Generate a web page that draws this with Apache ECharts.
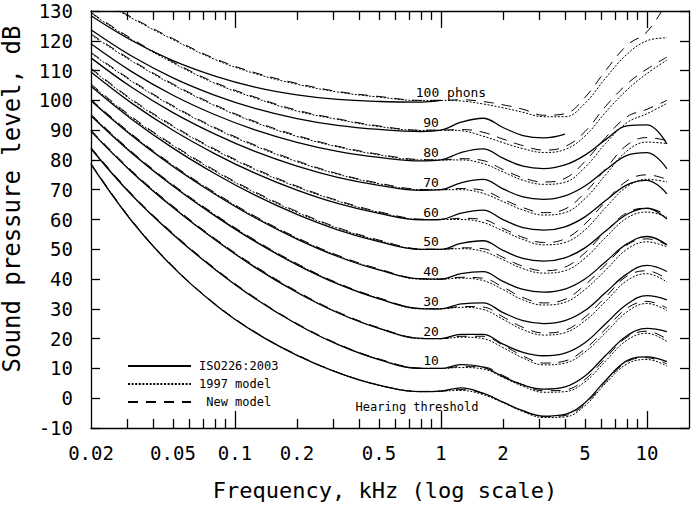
<!DOCTYPE html>
<html>
<head>
<meta charset="utf-8">
<script src="https://cdn.jsdelivr.net/npm/echarts@6/dist/echarts.min.js"></script>
<style>
  html, body { margin: 0; background: #fff; }
  #chart { width: 694px; height: 505px; }
</style>
</head>
<body>
<div id="chart"></div>
<script>
// frequencies in kHz
const freqs = [0.02, 0.0315, 0.05, 0.08, 0.125, 0.2, 0.315, 0.5, 0.8, 1, 1.25, 1.6, 2, 2.5, 3.15, 4, 5, 6.3, 8, 10, 12.5]

// ISO226:2003 contours, dB (90 phons stops at 4 kHz, 100 phons at 1 kHz)
const isoThr = [78.5, 59.5, 44.0, 31.5, 22.1, 14.4, 8.6, 4.4, 2.2, 2.4, 3.5, 1.7, -1.3, -4.2, -6.0, -5.4, -1.5, 6.0, 12.6, 13.9, 12.3]
const iso10 = [83.75, 68.21, 54.96, 43.24, 33.48, 24.84, 18.05, 12.98, 9.99, 10, 11.26, 10.42, 7.27, 4.45, 3.04, 3.80, 7.46, 14.35, 20.98, 23.43, 22.33]
const iso20 = [89.58, 75.98, 64.02, 53.19, 43.94, 35.51, 28.69, 23.43, 20.10, 20, 21.46, 21.40, 18.15, 15.38, 14.25, 15.14, 18.63, 25.02, 31.52, 34.43, 33.04]
const iso30 = [94.85, 82.36, 71.26, 61.22, 52.64, 44.78, 38.36, 33.37, 30.11, 30, 31.65, 32.04, 28.76, 26.02, 25.04, 26.02, 29.42, 35.48, 41.74, 44.57, 42.55]
const iso40 = [99.85, 88.17, 77.79, 68.48, 60.59, 53.41, 47.58, 43.05, 40.06, 40, 41.82, 42.51, 39.23, 36.51, 35.61, 36.65, 40.01, 45.83, 51.80, 54.29, 51.49]
const iso50 = [104.72, 93.69, 83.96, 75.36, 68.17, 61.72, 56.55, 52.59, 49.98, 50, 51.99, 52.87, 49.62, 46.91, 46.05, 47.15, 50.48, 56.11, 61.76, 63.78, 60.14]
const iso60 = [109.51, 99.07, 89.96, 82.05, 75.55, 69.85, 65.38, 62.04, 59.87, 60, 62.14, 63.18, 59.95, 57.24, 56.41, 57.56, 60.88, 66.35, 71.65, 73.14, 68.62]
const iso70 = [114.26, 104.38, 95.87, 88.64, 82.85, 77.92, 74.16, 71.47, 69.78, 70, 72.32, 73.47, 70.28, 67.58, 66.76, 67.95, 71.26, 76.59, 81.54, 82.46, 77.04]
const iso80 = [118.99, 109.65, 101.72, 95.17, 90.09, 85.92, 82.89, 80.86, 79.67, 80, 82.48, 83.74, 80.59, 77.88, 77.08, 78.31, 81.62, 86.81, 91.41, 91.74, 85.41]
const iso90 = [123.71, 114.88, 107.55, 101.67, 97.29, 93.89, 91.60, 90.24, 89.55, 90, 92.65, 94.00, 90.89, 88.18, 87.38, 88.66]
const iso100 = [128.41, 120.11, 113.35, 108.16, 104.48, 101.85, 100.30, 99.62, 99.44, 100]

// 1997 model (dotted)
const m97Thr = [78.7, 59.7, 44.2, 31.6, 22.2, 14.5, 8.6, 4.3, 2.2, 2.4, 2.6, 1.2, -1.5, -4.5, -6.5, -6.3, -2.5, 5.0, 11.5, 13.0, 10.8]
const m97p10 = [84.0, 68.4, 55.2, 43.4, 33.6, 24.9, 18.1, 13.0, 10.0, 10, 10.3, 9.8, 7.0, 4.0, 2.0, 2.2, 5.5, 12.5, 19.5, 21.8, 19.0]
const m97p20 = [89.8, 76.2, 64.3, 53.4, 44.2, 35.7, 28.8, 23.5, 20.0, 20, 20.5, 20.0, 17.0, 13.5, 11.2, 11.8, 15.5, 22.0, 29.0, 31.8, 29.5]
const m97p30 = [95.1, 82.6, 71.5, 61.5, 52.9, 45.0, 38.5, 33.5, 30.0, 30, 30.5, 29.8, 26.5, 23.0, 21.2, 22.0, 26.0, 32.5, 39.5, 41.8, 39.0]
const m97p40 = [100.1, 88.5, 78.1, 68.8, 60.9, 53.7, 47.8, 43.2, 40.0, 40, 40.3, 39.5, 36.5, 33.0, 31.3, 32.2, 36.5, 43.0, 50.0, 52.5, 50.8]
const m97p50 = [105.2, 94.2, 84.8, 76.2, 69.0, 62.4, 57.1, 52.9, 50.0, 50, 50.2, 49.3, 46.5, 43.5, 42.0, 42.8, 47.0, 54.0, 60.5, 62.5, 60.8]
const m97p60 = [110.5, 100.1, 91.2, 83.3, 76.8, 70.9, 66.2, 62.4, 60.0, 60, 60.0, 59.0, 56.2, 53.3, 51.5, 52.3, 56.5, 64.0, 71.0, 73.5, 72.6]
const m97p70 = [115.8, 106.4, 97.9, 90.6, 84.7, 79.4, 75.2, 72.0, 70.0, 70, 70.0, 68.8, 66.0, 63.2, 61.5, 62.3, 67.0, 75.0, 83.0, 86.0, 85.5]
const m97p80 = [122.0, 113.2, 105.2, 98.2, 92.6, 87.9, 84.4, 81.7, 80.0, 80, 80.0, 78.8, 76.0, 73.2, 71.8, 72.5, 77.5, 85.5, 92.5, 95.5, 99.0]
const m97p90 = [129.2, 120.4, 112.6, 105.7, 100.8, 96.4, 93.6, 91.2, 89.9, 90, 89.8, 88.0, 85.8, 83.8, 82.5, 83.5, 88.0, 96.0, 103.5, 109.0, 113.5]
const m97p100 = [135.4, 127.6, 120.4, 113.7, 109.0, 105.4, 102.8, 101.1, 99.9, 100, 99.8, 98.8, 97.5, 96.0, 94.5, 94.5, 99.0, 107.5, 115.5, 120.0, 121.0]

// new model (dashed)
const newThr = [78.8, 59.8, 44.3, 31.7, 22.3, 14.6, 8.7, 4.4, 2.3, 2.4, 2.9, 1.6, -1.3, -4.3, -6.2, -5.8, -2.0, 5.5, 12.2, 13.6, 11.5]
const newP10 = [84.2, 68.6, 55.4, 43.6, 33.8, 25.1, 18.3, 13.2, 10.1, 10, 10.6, 10.5, 7.6, 4.5, 2.5, 2.8, 6.3, 13.5, 20.5, 22.5, 19.8]
const newP20 = [90.0, 76.4, 64.5, 53.6, 44.4, 35.9, 29.0, 23.7, 20.1, 20, 20.8, 20.8, 17.8, 14.2, 11.8, 12.5, 16.5, 23.2, 30.2, 32.5, 30.3]
const newP30 = [95.3, 82.8, 71.7, 61.7, 53.1, 45.2, 38.7, 33.7, 30.1, 30, 30.8, 30.6, 27.3, 23.8, 21.9, 22.8, 27.2, 34.0, 41.0, 42.8, 40.0]
const newP40 = [100.3, 88.7, 78.3, 69.0, 61.1, 53.9, 48.0, 43.4, 40.1, 40, 40.6, 40.3, 37.3, 33.8, 32.0, 33.2, 38.0, 44.8, 51.5, 53.5, 51.5]
const newP50 = [105.5, 94.5, 85.1, 76.5, 69.3, 62.7, 57.3, 53.1, 50.1, 50, 50.5, 50.2, 47.3, 44.3, 42.8, 44.0, 48.8, 56.0, 62.3, 63.8, 61.5]
const newP60 = [110.8, 100.4, 91.5, 83.6, 77.1, 71.2, 66.4, 62.6, 60.1, 60, 60.4, 60.0, 57.0, 54.0, 52.3, 53.5, 58.5, 66.0, 73.0, 75.0, 73.5]
const newP70 = [116.1, 106.7, 98.2, 90.9, 85.0, 79.7, 75.4, 72.2, 70.1, 70, 70.4, 69.8, 66.8, 64.0, 62.3, 63.5, 69.0, 77.0, 85.0, 87.5, 86.5]
const newP80 = [122.3, 113.5, 105.5, 98.5, 92.9, 88.2, 84.6, 81.9, 80.1, 80, 80.4, 79.8, 76.8, 74.0, 72.6, 73.8, 79.5, 87.5, 94.5, 97.0, 100.0]
const newP90 = [129.5, 120.7, 112.9, 106.0, 101.1, 96.7, 93.8, 91.4, 90.0, 90, 90.2, 89.3, 87.0, 84.8, 83.3, 84.5, 89.5, 98.0, 105.5, 110.5, 114.5]
const newP100 = [135.7, 127.9, 120.7, 114.0, 109.3, 105.7, 103.0, 101.3, 100.0, 100, 100.2, 99.6, 98.5, 97.0, 95.0, 95.5, 101.0, 110.0, 118.5, 123.0, 133.0]

// contour names printed at 1 kHz
const phonLabels = ['Hearing threshold', '10', '20', '30', '40', '50', '60', '70', '80', '90', '100 phons']

// axis ticks (kHz)
const xLabelValues = [0.02, 0.05, 0.1, 0.2, 0.5, 1, 2, 5, 10]
const xMinorTicks = [0.03, 0.04, 0.05, 0.06, 0.07, 0.08, 0.09, 0.2, 0.3, 0.4, 0.5, 0.6, 0.7, 0.8, 0.9, 2, 3, 4, 5, 6, 7, 8, 9]
const xMajorTicks = [0.1, 1, 10]
const xRange = [0.02, 16]
const yRange = [-10, 130]

const isoSets = [isoThr, iso10, iso20, iso30, iso40, iso50, iso60, iso70, iso80, iso90, iso100]
const m97Sets = [m97Thr, m97p10, m97p20, m97p30, m97p40, m97p50, m97p60, m97p70, m97p80, m97p90, m97p100]
const newSets = [newThr, newP10, newP20, newP30, newP40, newP50, newP60, newP70, newP80, newP90, newP100]

const MONO = 'DejaVu Sans Mono'
const lg = (v) => Math.log10(v)

const chart = echarts.init(document.getElementById('chart'), null, { renderer: 'svg' })

// 1 kHz point of each ISO curve carries the level name
function labelFor (idx) {
  const base = { show: true, fontFamily: MONO, fontSize: 13, color: '#000', formatter: phonLabels[idx] }
  if (idx === 0) {
    return Object.assign(base, { position: 'bottom', distance: 3, offset: [-24, 7], fontSize: 12 })
  }
  if (idx === 10) {
    return Object.assign(base, { position: 'top', distance: 1, offset: [10, 0] })
  }
  return Object.assign(base, { position: 'top', distance: 1, offset: [-10, 0] })
}

function buildData (vals, idx, withLabel) {
  return vals.map((v, i) => {
    const item = { value: [lg(freqs[i]), v] }
    if (withLabel && freqs[i] === 1) item.label = labelFor(idx)
    return item
  })
}

function lineSeries (name, data, type, width) {
  return {
    name,
    type: 'line',
    data,
    smooth: 0.4,
    symbol: 'circle',
    symbolSize: 0,
    showSymbol: true,
    silent: true,
    clip: true,
    z: 1,
    label: { show: false },
    lineStyle: { color: '#000', width, type },
    itemStyle: { color: '#000' }
  }
}

const series = []
newSets.forEach((vals, idx) => series.push(lineSeries('New model', buildData(vals, idx, false), [10, 8], 1)))
m97Sets.forEach((vals, idx) => series.push(lineSeries('1997 model', buildData(vals, idx, false), [2, 1.6], 1)))
isoSets.forEach((vals, idx) => series.push(lineSeries('ISO226:2003', buildData(vals, idx, true), 'solid', 1.3)))

const axisLineStyle = { color: '#000', width: 1.3 }

function xAxisOf (position, ticks, tickLen, showLine, showLabel) {
  return {
    type: 'value',
    position,
    z: 5,
    min: lg(xRange[0]),
    max: lg(xRange[1]),
    splitLine: { show: false },
    axisLine: { show: showLine, onZero: false, lineStyle: axisLineStyle },
    axisTick: { show: true, inside: true, length: tickLen, customValues: ticks.map(lg), lineStyle: { color: '#000', width: 1.3 } },
    axisLabel: {
      show: showLabel,
      customValues: xLabelValues.map(lg),
      margin: 15,
      fontFamily: MONO,
      fontSize: 19,
      color: '#000',
      formatter: (v) => String(parseFloat(Math.pow(10, v).toPrecision(2)))
    }
  }
}

function yAxisOf (position, showLabel) {
  return {
    type: 'value',
    position,
    z: 5,
    min: yRange[0],
    max: yRange[1],
    interval: 10,
    splitLine: { show: false },
    axisLine: { show: true, onZero: false, lineStyle: axisLineStyle },
    axisTick: { show: true, inside: true, length: 9, lineStyle: { color: '#000', width: 1.3 } },
    axisLabel: { show: showLabel, margin: 18, fontFamily: MONO, fontSize: 19, color: '#000' }
  }
}

const option = {
  animation: false,
  grid: { left: 91, right: 5, top: 11, bottom: 77, outerBoundsMode: 'none' },
  xAxis: [
    xAxisOf('bottom', xMinorTicks, 9, true, true),
    xAxisOf('bottom', xMajorTicks, 17, false, false),
    xAxisOf('top', xMinorTicks, 9, true, false),
    xAxisOf('top', xMajorTicks, 17, false, false)
  ],
  yAxis: [yAxisOf('left', true), yAxisOf('right', false)],
  legend: {
    data: ['ISO226:2003', '1997 model', 'New model'],
    orient: 'vertical',
    left: 127,
    top: 360,
    padding: 0,
    itemWidth: 63,
    itemHeight: 12,
    itemGap: 6,
    selectedMode: false,
    itemStyle: { opacity: 0 },
    formatter: (name) => (name === 'New model' ? ' ' + name : name),
    textStyle: { fontFamily: MONO, fontSize: 12, color: '#000', padding: [0, 0, 0, 3] }
  },
  graphic: [
    {
      type: 'text',
      x: 385,
      y: 490,
      style: { text: 'Frequency, kHz (log scale)', font: '22px "DejaVu Sans Mono"', fill: '#000', align: 'center', verticalAlign: 'middle' }
    },
    {
      type: 'text',
      x: 12,
      y: 199,
      rotation: Math.PI / 2,
      style: { text: 'Sound pressure level, dB', font: '24px "DejaVu Sans Mono"', fill: '#000', align: 'center', verticalAlign: 'middle' }
    }
  ],
  series
}

chart.setOption(option)
</script>
</body>
</html>
